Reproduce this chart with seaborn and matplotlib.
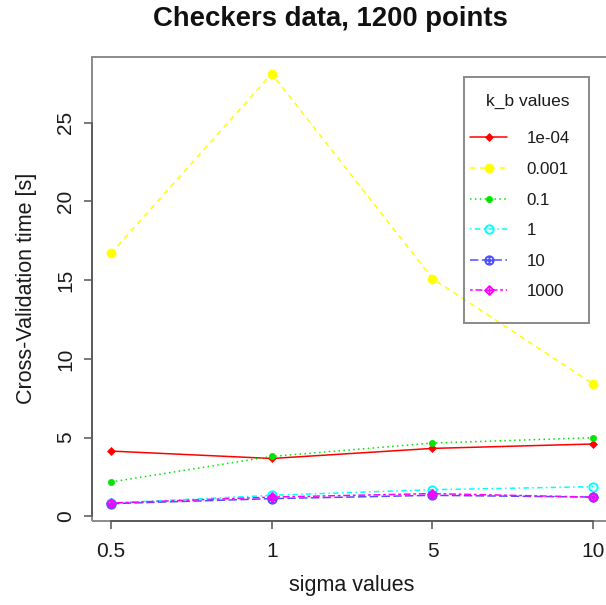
import numpy as np
import pandas as pd
import matplotlib
matplotlib.use("Agg")
import matplotlib.pyplot as plt
from matplotlib.patches import Rectangle
from matplotlib.path import Path
import seaborn as sns

# Cross-validation timing, checkers data set (1200 points)
sigma_labels = ["0.5", "1", "5", "10"]
kb_labels = ["1e-04", "0.001", "0.1", "1", "10", "1000"]
time_kb_1e04 = [4.15, 3.68, 4.32, 4.60]
time_kb_0001 = [16.7, 28.1, 15.1, 8.4]
time_kb_01 = [2.19, 3.81, 4.66, 5.00]
time_kb_1 = [0.85, 1.34, 1.70, 1.89]
time_kb_10 = [0.81, 1.13, 1.34, 1.23]
time_kb_1000 = [0.85, 1.23, 1.45, 1.23]

series = [time_kb_1e04, time_kb_0001, time_kb_01, time_kb_1, time_kb_10, time_kb_1000]

sns.set_style("white")
plt.rcParams["font.family"] = ["Liberation Sans", "DejaVu Sans"]

W, H = 606, 605
fig = plt.figure(figsize=(W / 100, H / 100), dpi=100)

# plot region in pixel coordinates (right edge runs past the canvas)
px_l, px_r, px_t, px_b = 91.7, 612.5, 56.5, 520.9
ax = fig.add_axes([px_l / W, 1 - px_b / H, (px_r - px_l) / W, (px_b - px_t) / H])

pos = np.arange(len(sigma_labels))
frame = pd.DataFrame({"pos": pos})
for lab, vals in zip(kb_labels, series):
    frame[lab] = vals

# circle with plus, diamond with plus
circ = Path.unit_circle()
plus = Path([[-1, 0], [1, 0], [0, -1], [0, 1]],
            [Path.MOVETO, Path.LINETO, Path.MOVETO, Path.LINETO])
circle_plus = Path.make_compound_path(circ, plus)
diam = Path([[0, 1], [1, 0], [0, -1], [-1, 0], [0, 1]],
            [Path.MOVETO, Path.LINETO, Path.LINETO, Path.LINETO, Path.CLOSEPOLY])
diamond_plus = Path.make_compound_path(diam, plus)

styles = [
    dict(color="#FF0000", ls="-", marker="D", ms=4.5, mfc="#FF0000", mew=0.5),
    dict(color="#FFFF00", ls=(0, (3.5, 3.0)), marker="o", ms=6.5, mfc="#FFFF00", mew=0.5),
    dict(color="#00E600", ls=(0, (1, 2.2)), marker="o", ms=4.5, mfc="#00E600", mew=0.5),
    dict(color="#00FFFF", ls=(0, (1, 2.2, 3.5, 2.2)), marker="o", ms=6.0, mfc="none", mew=1.4),
    dict(color="#5050FF", ls=(0, (5.5, 2.2)), marker=circle_plus, ms=6.0, mfc="none", mew=1.4),
    dict(color="#FF00FF", ls=(0, (1.8, 1.8, 4.5, 1.8)), marker=diamond_plus, ms=6.5, mfc="none", mew=1.2),
]

for lab, st in zip(kb_labels, styles):
    sns.lineplot(data=frame, x="pos", y=lab, ax=ax, color=st["color"],
                 linestyle=st["ls"], linewidth=1.1, marker=st["marker"],
                 markersize=st["ms"], markerfacecolor=st["mfc"],
                 markeredgecolor=st["color"], markeredgewidth=st["mew"],
                 label=lab, legend=False)

# axis ranges with 4% padding
ymin = min(min(s) for s in series)
ymax = max(max(s) for s in series)
ypad = 0.04 * (ymax - ymin)
ax.set_ylim(ymin - ypad, ymax + ypad)
xpad = 0.04 * (pos[-1] - pos[0])
ax.set_xlim(pos[0] - xpad, pos[-1] + xpad)

# box around plot region
for sp in ax.spines.values():
    sp.set_visible(False)
ax.add_patch(Rectangle((0, 0), 1, 1, transform=ax.transAxes, fill=False,
                       ec="#8a8a8a", lw=1.4, clip_on=False, zorder=5))
ax.spines["left"].set_visible(True)
ax.spines["bottom"].set_visible(True)
ax.spines["left"].set_bounds(0, 25)
ax.spines["bottom"].set_bounds(pos[0], pos[-1])
for k in ("left", "bottom"):
    ax.spines[k].set_color("#555555")
    ax.spines[k].set_linewidth(1.2)
    ax.spines[k].set_zorder(6)

ax.set_xticks(pos)
ax.set_xticklabels(sigma_labels)
ax.set_yticks([0, 5, 10, 15, 20, 25])
ax.set_yticklabels(["0", "5", "10", "15", "20", "25"], rotation=90, va="center")
ax.tick_params(axis="both", direction="out", length=6, width=1.1, color="#555555",
               labelsize=15, labelcolor="#1a1a1a", pad=6, left=True, bottom=True)
ax.tick_params(axis="x", pad=9)

ax.set_xlabel("sigma values", fontsize=15.5, color="#1a1a1a", labelpad=10)
ax.set_ylabel("Cross-Validation time [s]", fontsize=15.5, color="#1a1a1a", labelpad=14)
fig.text(330 / W, 1 - 19 / H, "Checkers data, 1200 points", ha="center", va="center",
         fontsize=19.8, fontweight="bold", color="#111111")

# legend with a square frame
handles, labels = ax.get_legend_handles_labels()
leg = ax.legend(handles, labels, title="k_b values", loc="upper left",
                bbox_to_anchor=(470 / W, 1 - 94 / H), bbox_transform=fig.transFigure,
                frameon=False, fontsize=12.2, title_fontsize=12.5,
                handlelength=2.2, handletextpad=1.12, labelspacing=0.92,
                borderpad=0, borderaxespad=0, alignment="right")
for t in leg.get_texts():
    t.set_color("#1a1a1a")
leg.get_title().set_color("#1a1a1a")
leg._legend_box.sep = 16
fig.add_artist(Rectangle((464 / W, 1 - 323 / H), 125 / W, 246 / H,
                         transform=fig.transFigure, fill=False, ec="#8a8a8a", lw=1.4))

fig.savefig("out.png", dpi=100)
